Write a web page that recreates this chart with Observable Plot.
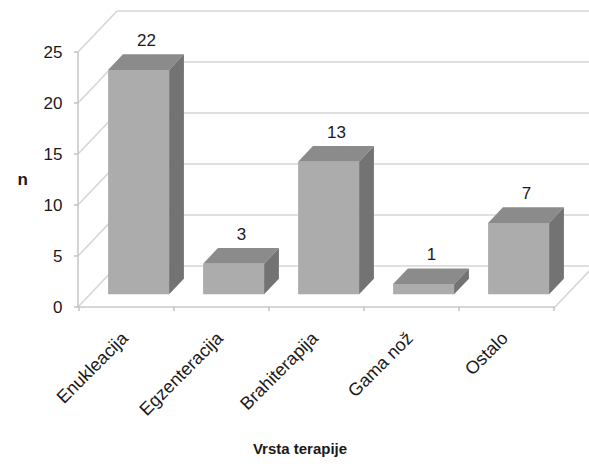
<!DOCTYPE html>
<html><head><meta charset="utf-8">
<script src="https://cdn.jsdelivr.net/npm/d3@7"></script>
<script src="https://cdn.jsdelivr.net/npm/@observablehq/plot@0.6"></script>
<style>
body{margin:0;background:#fff;}
#chart svg{font-family:"Liberation Sans",Arial,sans-serif;}
</style>
</head><body><div id="chart"></div>
<script>
const categories = ["Enukleacija", "Egzenteracija", "Brahiterapija", "Gama nož", "Ostalo"];
const values = [22, 3, 13, 1, 7];
const yTicks = [0, 5, 10, 15, 20, 25];
const xLabel = "Vrsta terapije";
const yLabel = "n";

const data = categories.map((c, i) => ({category: c, n: values[i]}));

// 3D depth vector (pixels) and bar depth placement
const DX = 39, DY = -41, T0 = 0.31, T1 = 0.69, INSET = 17;
const GRID = "#d6d6d6", FRONT = "#acacac", TOP = "#8b8b8b", SIDE = "#737373";

function scene(index, scales) {
  const x = scales.x, y = scales.y;
  const bw = x.bandwidth();
  const [xl, xr] = x.range();
  const g = d3.create("svg:g");
  const line = (x1, y1, x2, y2, w = 1.6, c = GRID) =>
    g.append("line").attr("x1", x1).attr("y1", y1).attr("x2", x2).attr("y2", y2)
      .attr("stroke", c).attr("stroke-width", w);
  for (const t of yTicks) {
    line(xl + DX, y(t) + DY, xr + DX, y(t) + DY);
    line(xl, y(t), xl + DX, y(t) + DY);
    line(xl - 4, y(t), xl, y(t), 1.4, "#bdbdbd");
  }
  line(xl, y(yTicks[0]), xl, y(yTicks[yTicks.length - 1]), 1.6, "#c8c8c8");
  line(xl, y(0), xr, y(0), 1.6, "#c8c8c8");
  line(xr, y(0), xr + DX, y(0) + DY);
  const bounds = categories.map(c => x(c)).concat([x(categories[categories.length - 1]) + bw]);
  for (const b of bounds) line(b, y(0), b, y(0) + 4, 1.4, "#bdbdbd");
  const ddx = DX * (T1 - T0), ddy = DY * (T1 - T0);
  for (const d of data) {
    const xa = x(d.category) + INSET + DX * T0;
    const xb = x(d.category) + bw - INSET + DX * T0;
    const yb = y(0) + DY * T0;
    const yt = y(d.n) + DY * T0;
    const poly = (pts, fill) => g.append("polygon")
      .attr("points", pts.map(p => p.join(",")).join(" ")).attr("fill", fill);
    poly([[xa, yt], [xb, yt], [xb + ddx, yt + ddy], [xa + ddx, yt + ddy]], TOP);
    poly([[xb, yt], [xb + ddx, yt + ddy], [xb + ddx, yb + ddy], [xb, yb]], SIDE);
    poly([[xa, yt], [xb, yt], [xb, yb], [xa, yb]], FRONT);
  }
  return g.node();
}

const chart = Plot.plot({
  width: 589,
  height: 464,
  marginLeft: 78,
  marginRight: 34,
  marginTop: 52,
  marginBottom: 157,
  x: {domain: categories, type: "band", padding: 0, axis: null},
  y: {domain: [0, 25], axis: null},
  marks: [
    scene,
    Plot.text(data, {x: "category", y: "n", text: d => String(d.n), dx: DX * 0.5, dy: DY * T1 - 9,
      lineAnchor: "bottom", fontSize: 17, fill: "#1a1a1a"}),
    Plot.text(yTicks, {y: d => d, text: d => String(d), frameAnchor: "left", dx: -16,
      textAnchor: "end", fontSize: 17, fill: "#1a1a1a"}),
    Plot.text(categories, {x: d => d, frameAnchor: "bottom", rotate: -45, textAnchor: "end",
      dx: 2, dy: 32, fontSize: 18, fill: "#1a1a1a"}),
    Plot.text([yLabel], {frameAnchor: "left", dx: -61, fontSize: 17, fontWeight: "bold", fill: "#1a1a1a"}),
    Plot.text([xLabel], {frameAnchor: "bottom", dx: -17, dy: 146, fontSize: 15, fontWeight: "bold", fill: "#1a1a1a"})
  ]
});
document.getElementById("chart").appendChild(chart);
</script>
</body></html>
